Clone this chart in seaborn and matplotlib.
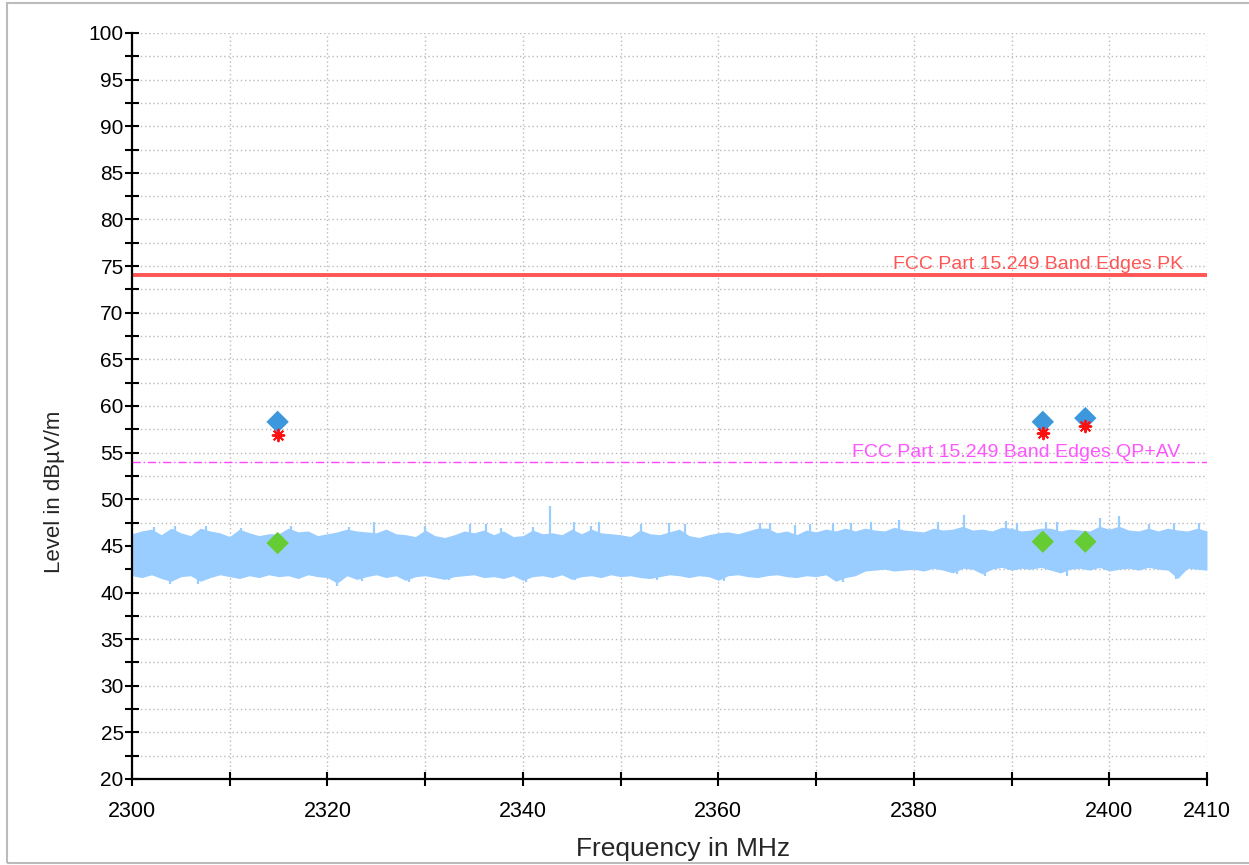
import numpy as np
import pandas as pd
import matplotlib
matplotlib.use("Agg")
import matplotlib.pyplot as plt
import seaborn as sns
from matplotlib.patches import Rectangle

# ---------------- data ----------------
trace_start = 2300  # MHz, 1 MHz bins
trace_upper = [
    46.3, 46.6, 46.8, 46.2, 46.9, 46.4, 46.1, 46.9, 46.6, 46.4,
    46.0, 46.8, 46.4, 46.1, 46.3, 46.3, 46.9, 46.5, 46.6, 46.1,
    46.3, 46.5, 46.8, 46.6, 46.5, 46.4, 46.8, 46.3, 46.2, 46.0,
    46.7, 46.1, 45.9, 46.2, 46.6, 46.4, 46.7, 46.2, 46.6, 46.0,
    46.1, 46.7, 46.3, 46.4, 46.2, 46.8, 46.3, 46.8, 46.4, 46.3,
    46.2, 46.0, 46.7, 46.3, 46.2, 46.5, 46.8, 46.1, 45.9, 46.2,
    46.4, 46.5, 46.3, 46.6, 46.9, 46.9, 46.4, 46.6, 46.2, 46.7,
    46.5, 46.8, 46.6, 46.9, 46.6, 46.9, 46.7, 46.6, 47.0, 46.7,
    46.6, 46.5, 46.9, 46.7, 46.8, 47.1, 46.7, 46.8, 46.6, 47.0,
    46.9, 46.6, 46.7, 46.9, 46.9, 46.6, 46.8, 46.7, 46.6, 47.1,
    46.8, 47.1, 46.7, 46.6, 46.9, 46.6, 46.9, 46.7, 46.6, 46.9, 46.6,
]
trace_lower = [
    41.8, 41.6, 41.9, 41.5, 41.2, 41.7, 41.8, 41.2, 41.6, 41.9,
    41.7, 41.5, 41.8, 41.6, 41.9, 41.7, 41.8, 41.5, 41.9, 41.7,
    41.6, 41.0, 41.8, 41.4, 41.7, 41.9, 41.6, 41.8, 41.3, 41.7,
    41.8, 41.6, 41.4, 41.7, 41.8, 41.9, 41.6, 41.7, 41.5, 41.8,
    41.3, 41.7, 41.8, 41.6, 41.9, 41.4, 41.7, 41.8, 41.6, 41.9,
    41.7, 41.8, 41.6, 41.5, 41.7, 41.9, 41.8, 41.6, 41.8, 41.7,
    41.3, 41.8, 41.9, 41.7, 41.6, 41.8, 41.9, 41.7, 41.6, 41.8,
    41.7, 41.9, 41.2, 41.6, 41.8, 42.3, 42.4, 42.5, 42.3, 42.4,
    42.5, 42.3, 42.6, 42.4, 42.1, 42.6, 42.5, 42.0, 42.5, 42.7,
    42.4, 42.6, 42.5, 42.7, 42.4, 42.1, 42.5, 42.6, 42.4, 42.7,
    42.3, 42.5, 42.6, 42.4, 42.7, 42.5, 42.4, 41.5, 42.6, 42.5, 42.4,
]
spike_freq = [2302.3, 2304.4, 2307.6, 2311.2, 2316.3, 2322.2, 2324.8,
              2330.0, 2334.6, 2336.2, 2337.8, 2341.0, 2342.8, 2345.2,
              2347.0, 2347.8, 2352.1, 2354.9, 2356.6, 2364.3, 2365.3,
              2367.8, 2369.4, 2371.7, 2373.6, 2375.6, 2378.5, 2382.5,
              2385.1, 2389.4, 2390.6, 2393.5, 2394.7, 2399.0, 2401.0,
              2404.1, 2406.6, 2409.2]
spike_level = [47.0, 47.1, 47.1, 46.9, 47.1, 47.0, 47.6,
               47.1, 47.3, 47.3, 46.9, 47.0, 49.3, 47.6,
               47.1, 47.6, 47.3, 47.5, 47.3, 47.5, 47.5,
               47.2, 47.3, 47.5, 47.5, 47.6, 47.8, 47.6,
               48.3, 47.7, 47.4, 47.6, 47.6, 48.0, 48.2,
               47.3, 47.4, 47.4]
dip_freq = [2303.9, 2306.8, 2321.0, 2323.5, 2328.3, 2332.4, 2340.3,
            2345.3, 2353.7, 2360.6, 2372.8, 2384.4, 2387.3, 2395.7, 2406.8]
dip_level = [40.9, 40.9, 40.7, 41.2, 41.1, 41.3, 41.1,
             41.3, 41.3, 41.2, 41.1, 42.0, 41.8, 41.8, 41.4]

marker_freq = [2314.9, 2393.2, 2397.55]
marker_peak = [58.3, 58.3, 58.7]
marker_qpk = [56.9, 57.15, 57.85]
marker_avg = [45.3, 45.45, 45.45]

limit_pk = 74.0
limit_qpav = 54.0
label_pk = "FCC Part 15.249 Band Edges PK"
label_qpav = "FCC Part 15.249 Band Edges QP+AV"

xtick_labels = [2300, 2320, 2340, 2360, 2380, 2400, 2410]
ytick_labels = list(range(20, 101, 5))

# ---------------- styling ----------------
sns.set_style("white")
plt.rcParams["font.family"] = ["Liberation Sans", "DejaVu Sans"]

TRACE = "#99CCFF"
fig = plt.figure(figsize=(12.49, 8.65), dpi=100)
ax = fig.add_axes([132 / 1249, 1 - 779 / 865, (1207 - 132) / 1249, (779 - 33) / 865])

freq = trace_start + np.arange(len(trace_upper))
ax.fill_between(freq, trace_lower, trace_upper, color=TRACE,
                linewidth=0, zorder=2)
base_hi = np.interp(spike_freq, freq, trace_upper)
ax.vlines(spike_freq, base_hi - 0.5, spike_level, color=TRACE, lw=1.6, zorder=2)
base_lo = np.interp(dip_freq, freq, trace_lower)
ax.vlines(dip_freq, dip_level, base_lo + 0.5, color=TRACE, lw=1.6, zorder=2)

ax.axhline(limit_pk, color="#FF5555", lw=2.8, zorder=3)
ax.axhline(limit_qpav, color="#FF44FF", lw=1.0, ls=(0, (6, 2, 1, 2)), zorder=3)
ax.text(2407.6, limit_pk + 0.25, label_pk, color="#FF5555", fontsize=14,
        ha="right", va="bottom", zorder=4)
ax.text(2407.3, limit_qpav + 0.5, label_qpav, color="#FF55FF", fontsize=14,
        ha="right", va="baseline", zorder=4)

mk = pd.DataFrame({"f": marker_freq, "pk": marker_peak, "qp": marker_qpk,
                   "av": marker_avg})
sns.scatterplot(data=mk, x="f", y="pk", marker="D", s=130, color="#3D97DD",
                edgecolor="none", ax=ax, zorder=5)
sns.scatterplot(data=mk, x="f", y="qp", marker=(8, 2, 0), s=70, color="#FF1010",
                linewidth=1.4, ax=ax, zorder=6)
sns.scatterplot(data=mk, x="f", y="av", marker="D", s=130, color="#66CC33",
                edgecolor="none", ax=ax, zorder=5)

ax.set_xlim(2300, 2410)
ax.set_ylim(20, 100)
ax.set_xticks(list(range(2300, 2411, 10)))
ax.set_xticklabels([str(v) if v in xtick_labels else "" for v in range(2300, 2411, 10)])
ax.set_yticks(ytick_labels)
ax.set_yticklabels([str(v) for v in ytick_labels])
ax.set_yticks(np.arange(22.5, 100, 5), minor=True)

ax.grid(True, which="major", axis="both", color="#BBBBBB", ls=(0, (1, 2)), lw=1.0)
ax.grid(True, which="minor", axis="y", color="#BBBBBB", ls=(0, (1, 2)), lw=1.0)
ax.set_axisbelow(True)

for s in ["top", "right"]:
    ax.spines[s].set_visible(False)
for s in ["left", "bottom"]:
    ax.spines[s].set_color("black")
    ax.spines[s].set_linewidth(1.6)
    ax.spines[s].set_zorder(7)

ax.tick_params(axis="y", which="both", direction="inout", length=10, width=1.5,
               labelsize=15, pad=1, colors="black", left=True)
ax.tick_params(axis="x", which="major", direction="inout", length=10, width=1.5,
               labelsize=15.5, pad=11, colors="black", bottom=True)

ax.set_xlabel("Frequency in MHz", fontsize=19)
ax.set_ylabel("Level in dBµV/m", fontsize=16)
ax.xaxis.set_label_coords(0.5126, -0.078)
ax.yaxis.set_label_coords(-0.062, 0.385)

fig.patches.append(Rectangle((7 / 1249, 2 / 865), 1.2, 1 - 5 / 865,
                             transform=fig.transFigure, fill=False,
                             edgecolor="#BBBBBB", lw=1.5, zorder=0))

fig.savefig("out.png", dpi=100)
